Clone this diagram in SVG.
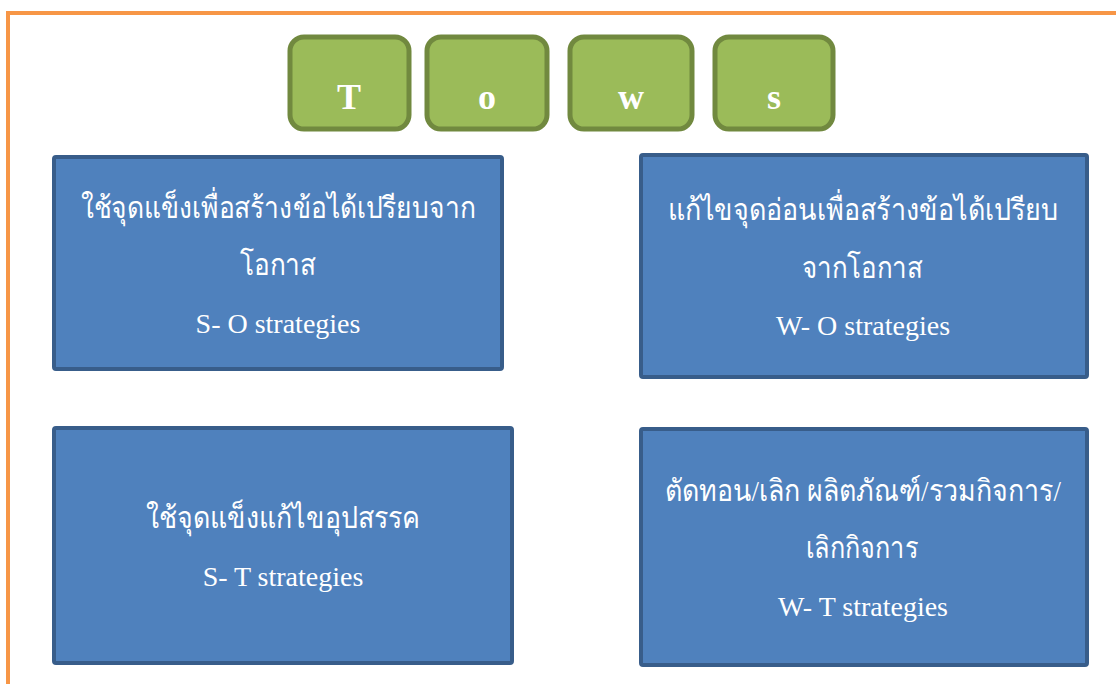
<svg xmlns="http://www.w3.org/2000/svg" width="1116" height="684" viewBox="0 0 1116 684">
<style>
.frame{fill:none;stroke:#F79646;stroke-width:4}
.g{fill:#9BBB59;stroke:#71893F;stroke-width:5}
.gt{font-family:"Liberation Serif","Times New Roman",serif;font-weight:bold;font-size:36px;fill:#fff;text-anchor:middle}
.b{fill:#4F81BD;stroke:#385D8A;stroke-width:4}
.th{font-family:"Liberation Serif","DejaVu Serif",serif;font-size:30px;fill:#fff;text-anchor:middle}
.en{font-family:"Liberation Serif","Times New Roman",serif;font-size:28px;fill:#fff;text-anchor:middle}
</style>
<rect class="frame" x="8" y="13" width="1130" height="700"/>
<g id="T"><rect class="g" x="290" y="37" width="119" height="92" rx="14"/><text class="gt" x="349" y="109">T</text></g>
<g id="O"><rect class="g" x="427" y="37" width="120" height="92" rx="14"/><text class="gt" x="487" y="109">o</text></g>
<g id="W"><rect class="g" x="570" y="37" width="122" height="92" rx="14"/><text class="gt" x="631" y="109">w</text></g>
<g id="S"><rect class="g" x="715" y="37" width="118" height="92" rx="14"/><text class="gt" x="774" y="109">s</text></g>
<g id="SO"><rect class="b" x="54" y="157" width="448" height="212" rx="2"/>
<text class="th" x="278" y="218" textLength="395" lengthAdjust="spacingAndGlyphs">ใช้จุดแข็งเพื่อสร้างข้อได้เปรียบจาก</text>
<text class="th" x="278" y="275" textLength="76" lengthAdjust="spacingAndGlyphs">โอกาส</text>
<text class="en" x="278" y="333">S- O strategies</text></g>
<g id="WO"><rect class="b" x="641" y="155" width="446" height="222" rx="2"/>
<text class="th" x="863" y="220" textLength="391" lengthAdjust="spacingAndGlyphs">แก้ไขจุดอ่อนเพื่อสร้างข้อได้เปรียบ</text>
<text class="th" x="862" y="278" textLength="121" lengthAdjust="spacingAndGlyphs">จากโอกาส</text>
<text class="en" x="863" y="335">W- O strategies</text></g>
<g id="ST"><rect class="b" x="54" y="428" width="458" height="235" rx="2"/>
<text class="th" x="283" y="528" textLength="274" lengthAdjust="spacingAndGlyphs">ใช้จุดแข็งแก้ไขอุปสรรค</text>
<text class="en" x="283" y="586">S- T strategies</text></g>
<g id="WT"><rect class="b" x="641" y="429" width="446" height="236" rx="2"/>
<text class="th" x="863" y="501" textLength="396" lengthAdjust="spacingAndGlyphs">ตัดทอน/เลิก ผลิตภัณฑ์/รวมกิจการ/</text>
<text class="th" x="862" y="558" textLength="112" lengthAdjust="spacingAndGlyphs">เลิกกิจการ</text>
<text class="en" x="863" y="616">W- T strategies</text></g>
<g id="connectors"/>
</svg>
